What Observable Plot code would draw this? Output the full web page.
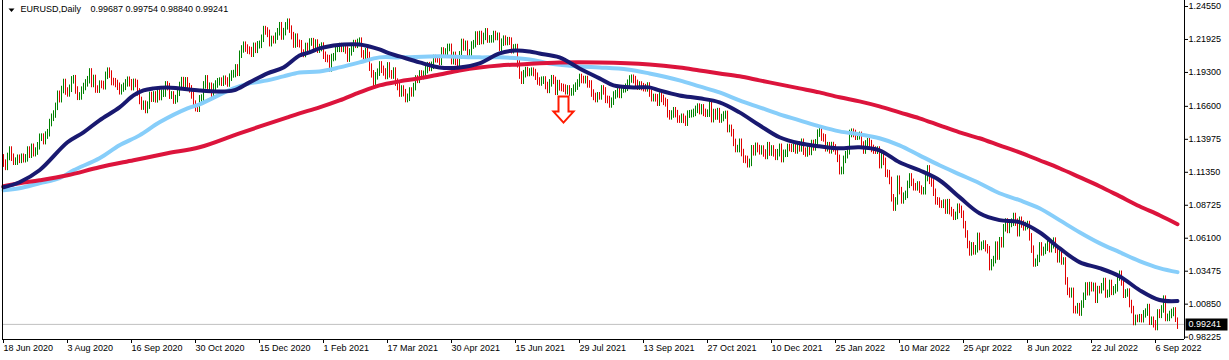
<!DOCTYPE html>
<html><head><meta charset="utf-8">
<script src="https://cdn.jsdelivr.net/npm/d3@7"></script>
<script src="https://cdn.jsdelivr.net/npm/@observablehq/plot@0.6"></script>
<style>html,body{margin:0;padding:0;background:#fff;} svg{display:block}</style>
</head><body><div id="chart"></div>
<script>
// ---------------- data ----------------
const symbolName = "EURUSD,Daily";
const lastBar = [0.99687, 0.99754, 0.98840, 0.99241]; // O H L C of the current bar
const firstOpen = 1.1246;
// daily closes, one per bar, 18 Jun 2020 -> 21 Sep 2022
const closes = [
1.1204,1.1178,1.1257,1.1308,1.1251,1.1219,1.1220,1.1243,1.1234,1.1251,1.1239,1.1246,1.1308,1.1275,1.1330,1.1287,1.1300,1.1342,1.1410,1.1411,1.1383,1.1427,1.1446,1.1527,1.1569,1.1595,1.1656,1.1752,1.1717,1.1790,1.1846,1.1778,
1.1763,1.1800,1.1867,1.1876,1.1786,1.1736,1.1739,1.1785,1.1814,1.1843,1.1868,1.1930,1.1838,1.1878,1.1794,1.1793,1.1833,1.1830,1.1820,1.1903,1.1936,1.1913,1.1854,1.1852,1.1838,1.1816,1.1780,1.1802,1.1815,1.1843,1.1864,1.1844,
1.1813,1.1847,1.1838,1.1771,1.1703,1.1658,1.1673,1.1631,1.1666,1.1743,1.1721,1.1747,1.1716,1.1781,1.1734,1.1760,1.1762,1.1827,1.1813,1.1745,1.1747,1.1706,1.1718,1.1768,1.1822,1.1861,1.1815,1.1859,1.1813,1.1795,1.1747,1.1674,
1.1646,1.1641,1.1716,1.1722,1.1827,1.1875,1.1814,1.1816,1.1740,1.1809,1.1834,1.1852,1.1857,1.1848,1.1872,1.1858,1.1842,1.1888,1.1914,1.1917,1.1962,1.1927,1.2071,1.2113,1.2143,1.2120,1.2104,1.2100,1.2079,1.2134,1.2110,1.2146,
1.2150,1.2198,1.2267,1.2256,1.2237,1.2163,1.2189,1.2186,1.2215,1.2250,1.2298,1.2216,1.2251,1.2297,1.2326,1.2271,1.2219,1.2152,1.2207,1.2158,1.2154,1.2080,1.2077,1.2133,1.2107,1.2168,1.2171,1.2140,1.2160,1.2111,1.2124,1.2136,
1.2063,1.2039,1.2036,1.1962,1.2045,1.2051,1.2118,1.2118,1.2132,1.2118,1.2130,1.2105,1.2040,1.2090,1.2119,1.2156,1.2150,1.2165,1.2175,1.2074,1.2048,1.2091,1.2061,1.1968,1.1915,1.1846,1.1899,1.1928,1.1986,1.1951,1.1930,1.1902,
1.1978,1.1915,1.1905,1.1937,1.1849,1.1814,1.1762,1.1794,1.1765,1.1718,1.1728,1.1778,1.1763,1.1813,1.1874,1.1871,1.1914,1.1901,1.1911,1.1948,1.1980,1.1966,1.1983,1.2037,1.2035,1.2034,1.2014,1.2097,1.2083,1.2089,1.2125,1.2126,
1.2020,1.2062,1.2014,1.2004,1.2066,1.2165,1.2129,1.2150,1.2076,1.2081,1.2144,1.2155,1.2224,1.2175,1.2228,1.2180,1.2213,1.2249,1.2192,1.2193,1.2194,1.2228,1.2212,1.2214,1.2127,1.2167,1.2191,1.2172,1.2179,1.2175,1.2107,1.2121,
1.2124,1.1995,1.1905,1.1864,1.1916,1.1941,1.1925,1.1930,1.1936,1.1925,1.1896,1.1858,1.1850,1.1864,1.1866,1.1822,1.1791,1.1843,1.1876,1.1863,1.1776,1.1837,1.1811,1.1806,1.1801,1.1780,1.1795,1.1770,1.1772,1.1801,1.1817,1.1842,
1.1886,1.1870,1.1868,1.1870,1.1835,1.1834,1.1762,1.1735,1.1718,1.1740,1.1739,1.1795,1.1779,1.1712,1.1710,1.1675,1.1697,1.1746,1.1756,1.1773,1.1751,1.1794,1.1797,1.1808,1.1840,1.1874,1.1880,1.1869,1.1839,1.1817,1.1826,1.1813,
1.1805,1.1803,1.1818,1.1762,1.1725,1.1727,1.1724,1.1689,1.1739,1.1719,1.1696,1.1684,1.1597,1.1580,1.1595,1.1621,1.1598,1.1555,1.1554,1.1569,1.1552,1.1530,1.1594,1.1597,1.1600,1.1608,1.1632,1.1650,1.1622,1.1644,1.1608,1.1601,
1.1602,1.1681,1.1558,1.1607,1.1579,1.1614,1.1555,1.1567,1.1587,1.1592,1.1479,1.1481,1.1446,1.1369,1.1320,1.1320,1.1370,1.1288,1.1236,1.1233,1.1199,1.1210,1.1318,1.1294,1.1338,1.1320,1.1302,1.1316,1.1285,1.1265,1.1343,1.1292,
1.1317,1.1286,1.1258,1.1287,1.1330,1.1240,1.1282,1.1283,1.1329,1.1328,1.1322,1.1327,1.1309,1.1349,1.1325,1.1370,1.1299,1.1285,1.1313,1.1297,1.1360,1.1333,1.1366,1.1443,1.1456,1.1411,1.1405,1.1326,1.1343,1.1310,1.1344,1.1325,
1.1301,1.1242,1.1144,1.1146,1.1234,1.1271,1.1302,1.1440,1.1450,1.1440,1.1418,1.1422,1.1425,1.1348,1.1308,1.1357,1.1375,1.1359,1.1321,1.1308,1.1307,1.1308,1.1192,1.1271,1.1218,1.1124,1.1120,1.1066,1.0928,1.0854,1.0903,1.1076,
1.0985,1.0911,1.0941,1.0955,1.1035,1.1094,1.1051,1.1016,1.1015,1.1030,1.0997,1.0984,1.0984,1.1089,1.1158,1.1067,1.1046,1.0972,1.0904,1.0901,1.0879,1.0876,1.0886,1.0830,1.0889,1.0826,1.0809,1.0781,1.0788,1.0853,1.0836,1.0797,
1.0714,1.0640,1.0556,1.0497,1.0545,1.0505,1.0522,1.0621,1.0540,1.0550,1.0560,1.0530,1.0515,1.0380,1.0411,1.0436,1.0551,1.0464,1.0586,1.0562,1.0689,1.0735,1.0676,1.0724,1.0734,1.0779,1.0734,1.0650,1.0749,1.0719,1.0697,1.0707,
1.0715,1.0617,1.0519,1.0409,1.0415,1.0445,1.0545,1.0497,1.0509,1.0535,1.0567,1.0523,1.0554,1.0583,1.0518,1.0442,1.0483,1.0425,1.0425,1.0266,1.0183,1.0163,1.0183,1.0038,1.0036,1.0061,1.0018,1.0082,1.0144,1.0226,1.0180,1.0229,
1.0212,1.0223,1.0120,1.0197,1.0196,1.0220,1.0261,1.0162,1.0167,1.0246,1.0183,1.0196,1.0211,1.0297,1.0319,1.0258,1.0160,1.0170,1.0177,1.0086,1.0038,0.9943,0.9968,0.9967,0.9973,0.9965,1.0004,1.0018,1.0054,0.9945,0.9953,0.9925,
0.9903,1.0011,1.0000,1.0043,1.0121,0.9975,0.9976,0.9999,1.0015,1.0027,0.9969,0.99241
];
// x-axis labels, one every 32 bars
const dateLabels = ["18 Jun 2020","3 Aug 2020","16 Sep 2020","30 Oct 2020","15 Dec 2020","1 Feb 2021","17 Mar 2021","30 Apr 2021","15 Jun 2021","29 Jul 2021","13 Sep 2021","27 Oct 2021","10 Dec 2021","25 Jan 2022","10 Mar 2022","25 Apr 2022","8 Jun 2022","22 Jul 2022","6 Sep 2022"];
const labelStep = 32;
// price-scale labels
const priceTicks = [1.24550,1.21925,1.19300,1.16600,1.13975,1.11350,1.08725,1.06100,1.03475,1.00850,0.98225];
// moving averages (bar index, value)
const maNavyIdx = [0,8,18,32,40,48,58,65,70,75,82,88,98,108,115,123,132,140,148,153,158,165,170,178,183,188,193,198,208,218,228,238,248,256,263,268,278,288,298,305,315,323,328,338,348,358,368,378,388,398,408,418,428,438,448,458,468,478,488,498,508,518,528,538,548,558,568,578,587];
const maNavyVal = [1.1016,1.1056,1.1151,1.1374,1.1453,1.1549,1.1652,1.1747,1.1787,1.1803,1.1811,1.1803,1.1787,1.1779,1.1787,1.1851,1.1922,1.1970,1.2065,1.2089,1.2121,1.2145,1.2153,1.2153,1.2137,1.2113,1.2081,1.2058,1.2010,1.1970,1.1970,1.2002,1.2081,1.2105,1.2097,1.2081,1.2050,1.1962,1.1883,1.1827,1.1811,1.1811,1.1787,1.1747,1.1724,1.1692,1.1612,1.1509,1.1414,1.1366,1.1342,1.1326,1.1334,1.1310,1.1215,1.1151,1.1072,1.0937,1.0809,1.0754,1.0738,1.0658,1.0531,1.0420,1.0372,1.0308,1.0197,1.0118,1.0110];
const maSkyIdx = [0,8,18,28,35,48,58,68,78,92,98,115,123,132,140,148,158,168,178,188,198,218,238,248,263,273,288,298,312,323,338,348,358,368,378,388,398,408,418,428,438,448,458,468,478,488,498,508,518,528,538,548,558,568,578,587];
const maSkyVal = [1.0992,1.1008,1.1048,1.1088,1.1151,1.1247,1.1350,1.1429,1.1533,1.1644,1.1676,1.1803,1.1843,1.1867,1.1899,1.1930,1.1938,1.1970,1.2010,1.2050,1.2050,1.2058,1.2050,1.2050,1.2034,1.2002,1.1978,1.1970,1.1954,1.1922,1.1867,1.1819,1.1771,1.1708,1.1652,1.1596,1.1549,1.1501,1.1461,1.1437,1.1406,1.1350,1.1270,1.1191,1.1119,1.1048,1.0968,1.0913,1.0849,1.0754,1.0658,1.0571,1.0499,1.0428,1.0372,1.0340];
const maRedIdx = [0,8,18,32,48,65,82,98,118,142,148,158,168,178,188,198,208,218,228,238,248,258,278,298,323,338,348,358,368,378,388,398,408,418,428,438,448,458,468,478,488,498,508,518,528,538,548,558,568,578,587];
const maRedVal = [1.1024,1.1048,1.1071,1.1111,1.1175,1.1231,1.1286,1.1334,1.1445,1.1573,1.1604,1.1652,1.1707,1.1771,1.1827,1.1859,1.1883,1.1914,1.1946,1.1970,1.1986,1.1994,1.2010,1.2010,1.1994,1.1970,1.1946,1.1922,1.1899,1.1867,1.1835,1.1803,1.1771,1.1732,1.1700,1.1660,1.1612,1.1565,1.1509,1.1453,1.1406,1.1350,1.1294,1.1231,1.1167,1.1096,1.1024,1.0945,1.0865,1.0793,1.0722];
// down-arrow object (bar index, price of its top)
const arrowIdx = [280];
const arrowPrice = [1.1738];

// ---------------- build ----------------
const wick = 0.003;
const bars = closes.map((c, i) => {
  const o = i === 0 ? firstOpen : closes[i - 1];
  return {i, o, c, hi: Math.max(o, c) + wick, lo: Math.min(o, c) - wick};
});
const lb = bars[bars.length - 1];
lb.o = lastBar[0]; lb.hi = lastBar[1]; lb.lo = lastBar[2]; lb.c = lastBar[3];

const toSeries = (idx, val) => idx.map((i, k) => ({i, v: val[k]}));
const navy = toSeries(maNavyIdx, maNavyVal);
const sky = toSeries(maSkyIdx, maSkyVal);
const red = toSeries(maRedIdx, maRedVal);
const arrows = arrowIdx.map((i, k) => ({i, p: arrowPrice[k]}));
const xTicks = dateLabels.map((_, k) => k * labelStep);
const lastClose = lastBar[3];

const arrowSymbol = {draw(ctx) {
  ctx.moveTo(-5, 0); ctx.lineTo(5, 0); ctx.lineTo(5, 15); ctx.lineTo(10, 15);
  ctx.lineTo(0, 26); ctx.lineTo(-10, 15); ctx.lineTo(-5, 15); ctx.closePath();
}};
const boxSymbol = {draw(ctx) { ctx.rect(1, -6, 42, 12); }};
const triSymbol = {draw(ctx) { ctx.moveTo(-3, -2); ctx.lineTo(3, -2); ctx.lineTo(0, 1.5); ctx.closePath(); }};

const xDomain = [-0.5, 590.5];
const yDomain = [0.98037, 1.25028];

const chart = Plot.plot({
  width: 1229, height: 360,
  marginLeft: 2, marginRight: 45, marginTop: 0, marginBottom: 21,
  style: {fontFamily: "'Liberation Sans', Arial, sans-serif", fontSize: "9px", color: "#000", background: "#fff", overflow: "visible"},
  x: {domain: xDomain, axis: null},
  y: {domain: yDomain, axis: null},
  marks: [
    Plot.ruleY([lastClose], {stroke: "#c0c0c0"}),
    Plot.ruleX(bars.filter(d => d.c >= d.o), {x: "i", y1: "lo", y2: "hi", stroke: "#008000", strokeWidth: 1}),
    Plot.ruleX(bars.filter(d => d.c < d.o), {x: "i", y1: "lo", y2: "hi", stroke: "#e00000", strokeWidth: 1}),
    Plot.line(sky, {x: "i", y: "v", stroke: "#87cefa", strokeWidth: 4, curve: "catmull-rom"}),
    Plot.line(red, {x: "i", y: "v", stroke: "#dc143c", strokeWidth: 4, curve: "catmull-rom"}),
    Plot.line(navy, {x: "i", y: "v", stroke: "#191970", strokeWidth: 4, curve: "catmull-rom"}),
    Plot.dot(arrows, {x: "i", y: "p", symbol: arrowSymbol, fill: "white", stroke: "#ff1a00", strokeWidth: 2}),
    Plot.ruleX([xDomain[0]], {stroke: "#000"}),
    Plot.ruleX([xDomain[1]], {stroke: "#000"}),
    Plot.ruleY([yDomain[0]], {stroke: "#000"}),
    Plot.axisY(priceTicks, {anchor: "right", tickSize: 3, tickPadding: 1, tickFormat: d => d.toFixed(5), label: null}),
    Plot.axisX(xTicks, {anchor: "bottom", tickSize: 4, tickPadding: 1, textAnchor: "start", tickFormat: d => dateLabels[Math.round(d / labelStep)], label: null}),
    Plot.dot([lastClose], {y: d => d, frameAnchor: "right", symbol: boxSymbol, fill: "#000", stroke: "none"}),
    Plot.text([lastClose], {y: d => d, text: d => d.toFixed(5), frameAnchor: "right", dx: 4, textAnchor: "start", fill: "#fff"}),
    Plot.dot([0], {frameAnchor: "top-left", dx: 9, dy: 10, symbol: triSymbol, fill: "#000", stroke: "none"}),
    Plot.text([symbolName], {text: d => d, frameAnchor: "top-left", dx: 18, dy: 5, lineAnchor: "top", textAnchor: "start", fill: "#000"}),
    Plot.text([lastBar.map(v => v.toFixed(5)).join(" ")], {text: d => d, frameAnchor: "top-left", dx: 88, dy: 5, lineAnchor: "top", textAnchor: "start", fill: "#000"})
  ]
});
document.getElementById("chart").appendChild(chart);
</script>
</body></html>
